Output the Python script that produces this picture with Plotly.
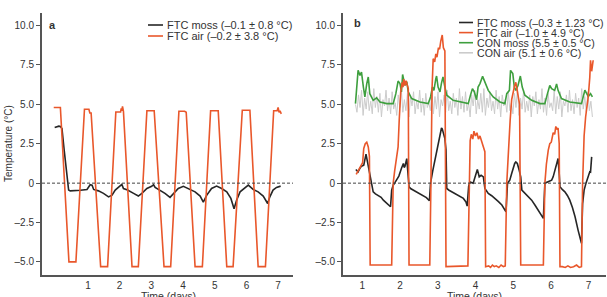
import numpy as np
import plotly.graph_objects as go

# ---------------- Panel a ----------------
A_AIR_T = [-0.08, 0.13, 0.40, 0.62, 0.89, 1.03, 1.06, 1.10, 1.40, 1.62, 1.88, 2.03, 2.05, 2.07, 2.09, 2.12,
           2.39, 2.59, 2.86, 3.09, 3.40, 3.61, 3.87, 4.05, 4.10, 4.38, 4.61, 4.87, 5.11, 5.38, 5.58,
           5.87, 6.11, 6.37, 6.60, 6.86, 6.97, 7.00, 7.03, 7.06, 7.10]
A_AIR_V = [4.8, 4.8, -5.0, -5.0, 4.69, 4.69, 4.45, 4.45, -5.3, -5.3, 4.52, 4.52, 4.75, 4.6, 4.87, 4.55,
           -5.3, -5.3, 4.6, 4.6, -5.3, -5.3, 4.56, 4.56, 4.5, -5.3, -5.3, 4.6, 4.6, -5.3, -5.3,
           4.63, 4.63, -5.3, -5.3, 4.6, 4.6, 4.8, 4.5, 4.6, 4.4]

A_MOSS_T = [-0.05, 0.02, 0.08, 0.13, 0.18, 0.25, 0.32, 0.39, 0.44, 0.60, 0.76, 0.97, 1.07, 1.13, 1.18, 1.33,
            1.49, 1.65, 1.76, 1.86, 2.02, 2.07, 2.12, 2.25, 2.44, 2.59, 2.70, 2.86, 3.01, 3.07, 3.12, 3.27,
            3.43, 3.59, 3.70, 3.85, 4.01, 4.07, 4.17, 4.38, 4.54, 4.64, 4.75, 4.90, 5.06, 5.22, 5.38, 5.51,
            5.61, 5.69, 5.80, 5.95, 6.06, 6.21, 6.37, 6.53, 6.67, 6.74, 6.84, 6.95, 7.08]
A_MOSS_V = [3.53, 3.58, 3.62, 3.6, 3.47, 2.1, 0.61, -0.44, -0.49, -0.48, -0.45, -0.4, -0.1, -0.13, -0.4, -0.49,
            -0.65, -0.87, -0.76, -0.44, -0.19, -0.08, -0.34, -0.44, -0.65, -0.82, -0.65, -0.34, -0.2, -0.1, -0.27, -0.44,
            -0.65, -0.9, -0.65, -0.34, -0.2, -0.25, -0.34, -0.55, -0.82, -1.2, -0.76, -0.34, -0.19, -0.34, -0.55, -0.97,
            -1.62, -1.08, -0.55, -0.27, -0.12, -0.4, -0.55, -0.82, -1.29, -0.87, -0.44, -0.27, -0.19]

# ---------------- Panel b ----------------
B_AIR_T = [0.84, 0.90, 0.95, 1.01, 1.04, 1.08, 1.12, 1.16, 1.19, 1.21, 1.78, 1.82, 1.86, 1.91, 1.95, 1.98,
           2.02, 2.06, 2.08, 2.10, 2.13, 2.16, 2.19, 2.22, 2.24, 2.79, 2.82, 2.85, 2.88, 2.92, 2.95, 2.98,
           3.02, 3.05, 3.08, 3.12, 3.15, 3.19, 3.22, 3.80, 3.84, 3.86, 3.89, 3.93, 3.96, 4.00, 4.04, 4.08,
           4.12, 4.17, 4.21, 4.25, 4.27, 4.35, 4.40, 4.45, 4.50, 4.55, 4.62, 4.68, 4.74, 4.79, 4.83, 4.87,
           4.92, 4.96, 5.00, 5.03, 5.07, 5.10, 5.13, 5.17, 5.20, 5.80, 5.84, 5.88, 5.93, 5.97, 6.01, 6.06,
           6.10, 6.13, 6.16, 6.19, 6.22, 6.24, 6.30, 6.38, 6.45, 6.52, 6.60, 6.68, 6.75, 6.81, 6.84, 6.88,
           6.92, 6.95, 6.99, 7.03, 7.05, 7.08, 7.10, 7.12]
B_AIR_V = [0.55, 0.8, 1.0, 1.3, 2.2, 2.5, 2.6, 2.3, 1.7, -5.2, -5.2, 0.0, 0.8, 1.5, 2.3, 4.0,
           5.8, 6.4, 6.1, 6.6, 6.2, 6.5, 6.2, 6.0, -5.2, -5.2, 0.0, 6.0, 7.9, 7.7, 8.2, 8.0,
           8.6, 8.5, 9.0, 9.4, 8.6, 8.4, -5.3, -5.25, 0.0, 2.7, 3.1, 2.8, 3.3, 3.0, 3.2, 2.8,
           3.0, 2.6, 2.2, 2.0, -5.3, -5.25, -5.35, -5.2, -5.3, -5.25, -5.35, -5.2, -5.3, -5.25, 0.0, 2.2,
           4.0, 5.3, 5.8, 6.1, 6.4, 6.0, 5.6, 5.0, -5.2, -5.2, 0.0, 1.2, 2.1, 2.5, 2.6, 3.2,
           3.1, 3.6, 3.4, 3.5, 2.5, -5.3, -5.3, -5.35, -5.25, -5.35, -5.3, -5.2, -5.35, -5.3, 0.0, 3.0,
           4.2, 4.8, 5.5, 6.7, 7.8, 7.1, 7.5, 7.8]

B_MOSS_T = [0.83, 0.89, 0.94, 0.98, 1.04, 1.08, 1.10, 1.13, 1.16, 1.19, 1.25, 1.29, 1.35, 1.42, 1.50, 1.56,
            1.65, 1.75, 1.78, 1.82, 1.87, 1.91, 1.97, 2.04, 2.07, 2.09, 2.11, 2.13, 2.18, 2.20, 2.24, 2.28,
            2.36, 2.44, 2.53, 2.62, 2.70, 2.78, 2.81, 2.87, 2.93, 2.97, 3.01, 3.06, 3.10, 3.12, 3.14, 3.17,
            3.19, 3.22, 3.24, 3.30, 3.37, 3.45, 3.54, 3.62, 3.68, 3.75, 3.78, 3.82, 3.85, 3.94, 3.99, 4.03,
            4.05, 4.08, 4.10, 4.15, 4.21, 4.25, 4.34, 4.43, 4.52, 4.61, 4.70, 4.76, 4.81, 4.85, 4.91, 4.96,
            5.00, 5.04, 5.07, 5.11, 5.16, 5.20, 5.23, 5.31, 5.40, 5.49, 5.58, 5.66, 5.73, 5.80, 5.84, 5.90,
            6.02, 6.06, 6.10, 6.15, 6.19, 6.22, 6.24, 6.30, 6.37, 6.44, 6.50, 6.57, 6.64, 6.72, 6.81, 6.84,
            6.88, 6.93, 6.97, 7.00, 7.03, 7.05, 7.08]
B_MOSS_V = [0.87, 0.72, 0.95, 1.08, 1.14, 1.5, 1.84, 1.46, 1.1, 0.72, 0.0, -0.55, -0.68, -0.78, -0.9, -1.08,
            -1.29, -1.5, -0.44, -0.13, 0.05, 0.19, 0.45, 0.95, 1.1, 1.25, 1.0, 1.05, 1.56, 1.03, -0.23, -0.34,
            -0.45, -0.55, -0.65, -0.78, -0.92, -1.12, 0.0, 0.8, 1.46, 2.0, 2.5, 3.0, 3.5, 3.45, 3.25, 3.0,
            2.83, 2.1, -0.34, -0.45, -0.55, -0.65, -0.78, -0.88, -0.97, -1.2, -1.46, -0.2, 0.08, 0.0, 0.4, 0.6,
            0.87, 0.6, 0.4, 0.5, 0.4, -0.34, -0.65, -0.8, -0.97, -1.17, -1.39, -1.6, -1.82, 0.0, 0.19, 0.61,
            1.03, 1.25, 1.35, 1.25, 0.82, 0.4, -0.44, -0.65, -0.85, -1.08, -1.4, -1.71, -1.95, -2.24, 0.0, 0.08,
            0.19, 0.4, 0.72, 1.1, 1.56, 0.61, -0.23, -0.4, -0.55, -0.8, -1.08, -1.55, -2.13, -2.98, -3.82, -1.3,
            -0.44, 0.0, 0.3, 0.4, 0.72, 0.7, 1.67]

B_CONMOSS_T = [0.82, 0.87, 0.89, 0.94, 0.98, 1.03, 1.07, 1.12, 1.16, 1.20, 1.29, 1.38, 1.47, 1.65, 1.82, 1.89,
               1.95, 2.00, 2.04, 2.07, 2.10, 2.13, 2.18, 2.22, 2.31, 2.53, 2.75, 2.81, 2.86, 2.90, 2.95, 2.97,
               3.01, 3.06, 3.10, 3.14, 3.19, 3.24, 3.41, 3.59, 3.81, 3.87, 3.92, 3.97, 4.03, 4.07, 4.12, 4.19,
               4.25, 4.34, 4.47, 4.65, 4.78, 4.83, 4.90, 4.93, 4.99, 5.03, 5.07, 5.13, 5.19, 5.24, 5.31, 5.49,
               5.71, 5.84, 5.90, 5.97, 6.02, 6.10, 6.15, 6.19, 6.28, 6.50, 6.81, 6.86, 6.90, 6.99, 7.05, 7.10]
B_CONMOSS_V = [5.05, 6.53, 7.16, 6.84, 7.05, 6.1, 5.47, 6.32, 6.74, 5.68, 5.26, 5.42, 5.15, 5.05, 5.05, 5.68,
               6.48, 6.32, 5.79, 6.9, 6.63, 6.21, 6.45, 5.79, 5.37, 5.15, 5.05, 5.47, 6.1, 5.89, 6.63, 6.8,
               6.1, 5.79, 6.35, 6.74, 6.1, 5.58, 5.26, 5.15, 5.05, 5.6, 6.0, 5.79, 5.3, 6.1, 6.32, 6.78,
               6.42, 5.89, 5.47, 5.15, 5.05, 5.68, 5.89, 7.16, 6.95, 6.1, 5.89, 6.21, 6.8, 6.1, 5.58, 5.26,
               5.05, 5.05, 5.6, 6.2, 6.0, 5.89, 6.3, 5.89, 5.37, 5.15, 5.05, 5.45, 5.9, 5.5, 5.68, 5.47]

B_CONAIR_V = [5.0, 4.5, 5.6, 4.8, 5.9, 4.3, 5.4, 4.7, 5.8, 4.6, 5.2, 4.4, 6.0, 4.8, 5.5, 4.5, 5.7, 4.2, 5.3, 4.9,
              5.9, 4.6, 5.4, 4.4, 5.8, 4.7, 5.1, 4.3, 5.6, 4.8, 6.0, 4.5, 5.3, 4.6, 5.7, 4.2, 5.5, 4.9, 5.8, 4.4,
              5.2, 4.7, 5.9, 4.5, 5.4, 4.3, 5.7, 4.8, 5.1, 4.6, 6.0, 4.4, 5.5, 4.7, 5.8, 4.2, 5.3, 4.9, 5.6, 4.5,
              5.9, 4.6, 5.2, 4.4, 5.7, 4.8, 5.4, 4.3, 6.0, 4.7, 5.5, 4.5, 5.8, 4.6, 5.1, 4.2, 5.6, 4.9, 5.9, 4.4,
              5.3, 4.7, 5.7, 4.5, 6.0, 4.3, 5.4, 4.8, 5.8, 4.6, 5.2, 4.4, 5.9, 4.7, 5.5, 4.2, 5.6, 4.9, 5.3, 4.5,
              5.8, 4.6, 5.1, 4.4, 5.7, 4.8, 6.0, 4.3, 5.4, 4.7, 5.9, 4.5, 5.2, 4.6, 5.6, 4.2, 5.5, 4.9, 5.8, 4.4,
              5.3, 4.7, 6.0, 4.5, 5.4, 4.3, 5.7, 4.8, 5.1, 4.6, 5.9, 4.4, 5.5, 4.7, 5.8, 4.2, 5.2, 4.9, 5.6, 4.5,
              5.9, 4.6, 5.3, 4.4, 5.7, 4.8, 5.4, 4.3, 6.0, 4.7, 5.5, 4.5, 5.8, 4.6, 5.2, 4.2]
B_CONAIR_START, B_CONAIR_END = 0.82, 7.10

Y_TICKS = [10.0, 7.5, 5.0, 2.5, 0, -2.5, -5.0]
Y_TICKTEXT = ["10.0", "7.5", "5.0", "2.5", "0", "\u20132.5", "\u20135.0"]
X_TICKS = [1, 2, 3, 4, 5, 6, 7]

LEG_A = ["FTC moss (\u20130.1 \u00b1 0.8 \u00b0C)", "FTC air (\u20130.2 \u00b1 3.8 \u00b0C)"]
LEG_B = ["FTC moss (\u20130.3 \u00b1 1.23 \u00b0C)", "FTC air (\u20131.0 \u00b1 4.9 \u00b0C)",
         "CON moss (5.5 \u00b1 0.5 \u00b0C)", "CON air (5.1 \u00b1 0.6 \u00b0C)"]
X_TITLE = "Time (days)"
Y_TITLE = "Temperature (\u00b0C)"

BLACK = "#262626"
ORANGE = "#E9572B"
GREEN = "#3E9F3E"
GRAY = "#CBCBCB"
AXC = "#555555"
TXT = "#333333"
FONT = "Liberation Sans, Arial, sans-serif"

W, H = 607, 297
def px(x):
    return x / W
def py(y):
    return 1 - y / H

fig = go.Figure()
# panel a
fig.add_trace(go.Scatter(x=A_MOSS_T, y=A_MOSS_V, mode="lines", line=dict(color=BLACK, width=1.6),
                         xaxis="x", yaxis="y", showlegend=False, hoverinfo="skip"))
fig.add_trace(go.Scatter(x=A_AIR_T, y=A_AIR_V, mode="lines", line=dict(color=ORANGE, width=1.6),
                         xaxis="x", yaxis="y", showlegend=False, hoverinfo="skip"))
# panel b
gray_t = np.linspace(B_CONAIR_START, B_CONAIR_END, len(B_CONAIR_V))
fig.add_trace(go.Scatter(x=gray_t, y=B_CONAIR_V, mode="lines", line=dict(color=GRAY, width=1),
                         xaxis="x2", yaxis="y2", showlegend=False, hoverinfo="skip"))
fig.add_trace(go.Scatter(x=B_CONMOSS_T, y=B_CONMOSS_V, mode="lines", line=dict(color=GREEN, width=1.6),
                         xaxis="x2", yaxis="y2", showlegend=False, hoverinfo="skip"))
fig.add_trace(go.Scatter(x=B_MOSS_T, y=B_MOSS_V, mode="lines", line=dict(color=BLACK, width=1.6),
                         xaxis="x2", yaxis="y2", showlegend=False, hoverinfo="skip"))
fig.add_trace(go.Scatter(x=B_AIR_T, y=B_AIR_V, mode="lines", line=dict(color=ORANGE, width=1.6),
                         xaxis="x2", yaxis="y2", showlegend=False, hoverinfo="skip"))

ydom = [py(275), py(13)]
common_x = dict(showline=True, linecolor=AXC, linewidth=2, ticks="", tickvals=X_TICKS, showgrid=False,
                zeroline=False, automargin=False, tickfont=dict(size=10, color=TXT, family=FONT))
common_y = dict(showline=True, linecolor=AXC, linewidth=2, ticks="outside", ticklen=4, tickcolor=AXC,
                tickwidth=1, tickvals=Y_TICKS, ticktext=Y_TICKTEXT, showgrid=False, zeroline=False,
                automargin=False, range=[-5.83, 10.8], domain=ydom,
                tickfont=dict(size=10, color=TXT, family=FONT))

fig.update_layout(
    width=W, height=H, margin=dict(l=0, r=0, t=0, b=0),
    paper_bgcolor="white", plot_bgcolor="white",
    font=dict(family=FONT, color=TXT),
    xaxis=dict(common_x, domain=[px(42), px(293)], range=[-0.45, 7.47], anchor="y"),
    yaxis=dict(common_y, anchor="x"),
    xaxis2=dict(common_x, domain=[px(343), px(606)], range=[0.49, 7.46], anchor="y2"),
    yaxis2=dict(common_y, anchor="x2"),
)

shapes = []
# zero dashed lines
for xr, yr in (("x domain", "y"), ("x2 domain", "y2")):
    shapes.append(dict(type="line", xref=xr, yref=yr, x0=0, x1=1, y0=0, y1=0,
                       line=dict(color="#444444", width=1, dash="3px,2px"), layer="above"))

annotations = []
# axis titles
for xc in (168, 474):
    annotations.append(dict(text=X_TITLE, xref="paper", yref="paper", x=px(xc), y=py(289), xanchor="center",
                            yanchor="top", showarrow=False, borderpad=0,
                            font=dict(size=10.5, color=TXT, family=FONT)))
annotations.append(dict(text=Y_TITLE, xref="paper", yref="paper", x=px(8), y=py(144), xanchor="center",
                        yanchor="middle", textangle=-90, showarrow=False, borderpad=0,
                        font=dict(size=10, color=TXT, family=FONT)))
# legend a
for i, (lab, col) in enumerate(zip(LEG_A, [BLACK, ORANGE])):
    yy = 25 + i * 11
    shapes.append(dict(type="line", xref="paper", yref="paper", x0=px(148), x1=px(163), y0=py(yy), y1=py(yy),
                       line=dict(color=col, width=1.6)))
    annotations.append(dict(text=lab, xref="paper", yref="paper", x=px(166), y=py(yy), xanchor="left",
                            yanchor="middle", showarrow=False, borderpad=0,
                            font=dict(size=11, color=TXT, family=FONT)))
# legend b
for i, (lab, col) in enumerate(zip(LEG_B, [BLACK, ORANGE, GREEN, GRAY])):
    yy = 22.5 + i * 10.1
    shapes.append(dict(type="line", xref="paper", yref="paper", x0=px(459), x1=px(473), y0=py(yy), y1=py(yy),
                       line=dict(color=col, width=1.6)))
    annotations.append(dict(text=lab, xref="paper", yref="paper", x=px(476), y=py(yy), xanchor="left",
                            yanchor="middle", showarrow=False, borderpad=0,
                            font=dict(size=10.6, color=TXT, family=FONT)))
# panel labels
annotations.append(dict(text="<b>a</b>", xref="paper", yref="paper", x=px(52), y=py(25), xanchor="center",
                        yanchor="middle", showarrow=False, font=dict(size=11, color=TXT, family=FONT)))
annotations.append(dict(text="<b>b</b>", xref="paper", yref="paper", x=px(357), y=py(23), xanchor="center",
                        yanchor="middle", showarrow=False, font=dict(size=11, color=TXT, family=FONT)))

fig.update_layout(shapes=shapes, annotations=annotations)
fig.write_html("out.html")
